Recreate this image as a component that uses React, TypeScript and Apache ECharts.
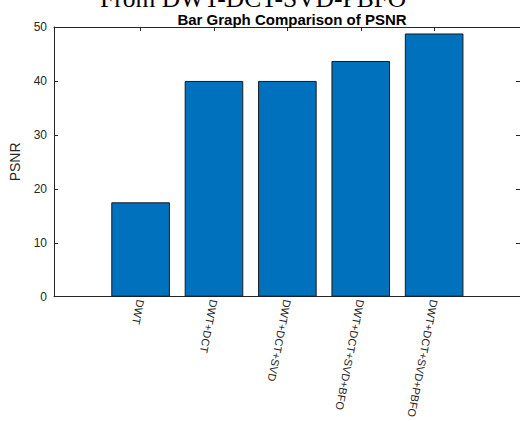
import React, { useEffect, useRef } from "react";
import * as echarts from "echarts";

const categories = ["DWT", "DWT+DCT", "DWT+DCT+SVD", "DWT+DCT+SVD+BFO", "DWT+DCT+SVD+PBFO"];
const positions = [1, 2, 3, 4, 5];
const psnrValues = [17.5, 40.0, 40.0, 43.7, 48.8];
const yTicks = [0, 10, 20, 30, 40, 50];

const AXIS = "#262626";
const SANS = "Liberation Sans, Arial, Helvetica, sans-serif";

export default function App() {
  const ref = useRef<HTMLDivElement>(null);
  useEffect(() => {
    if (!ref.current) return;
    const chart = echarts.init(ref.current, null, { renderer: "svg" });
    const xCommon = {
      type: "value",
      min: -0.18,
      max: 6.17,
      splitLine: { show: false },
      axisLine: { show: true, onZero: false, lineStyle: { color: AXIS, width: 1 } },
    };
    const yCommon = {
      type: "value",
      min: yTicks[0],
      max: yTicks[yTicks.length - 1],
      interval: 10,
      splitLine: { show: false },
      axisLine: { show: true, onZero: false, lineStyle: { color: AXIS, width: 1 } },
      axisTick: { show: true, inside: true, length: 4, lineStyle: { color: AXIS } },
    };
    chart.setOption({
      animation: false,
      title: {
        text: "Bar Graph Comparison of PSNR",
        left: 287,
        top: 7,
        textAlign: "center",
        textStyle: { fontSize: 15, fontWeight: "bold", color: "#000", fontFamily: SANS },
      },
      graphic: [
        {
          type: "text",
          left: 100,
          top: -15,
          style: {
            text: "From DWT-DCT-SVD-PBFO",
            font: "25.5px 'Liberation Serif', 'Times New Roman', serif",
            fill: "#000",
          },
        },
      ],
      grid: { left: 54, right: 0, top: 27, bottom: 116 },
      xAxis: [
        {
          ...xCommon,
          position: "bottom",
          axisTick: { show: true, inside: true, length: 4, customValues: positions, lineStyle: { color: AXIS } },
          axisLabel: {
            show: true,
            customValues: positions,
            rotate: -101,
            margin: 3,
            fontSize: 11,
            color: AXIS,
            fontFamily: SANS,
            formatter: (v: number) => categories[Math.round(v) - 1] ?? "",
          },
        },
        {
          ...xCommon,
          position: "top",
          axisTick: { show: true, inside: true, length: 4, customValues: positions, lineStyle: { color: AXIS } },
          axisLabel: { show: false },
        },
      ],
      yAxis: [
        {
          ...yCommon,
          position: "left",
          name: "PSNR",
          nameLocation: "middle",
          nameGap: 32,
          nameTextStyle: { fontSize: 14, color: AXIS, fontFamily: SANS },
          axisLabel: { show: true, margin: 7, fontSize: 12, color: AXIS, fontFamily: SANS },
        },
        {
          ...yCommon,
          position: "right",
          axisLabel: { show: false },
        },
      ],
      series: [
        {
          type: "bar",
          xAxisIndex: 0,
          yAxisIndex: 0,
          barWidth: 58.6,
          data: positions.map((p, i) => [p, psnrValues[i]]),
          itemStyle: { color: "#0072BD", borderColor: "#1a1a1a", borderWidth: 1 },
        },
      ],
    });
    return () => chart.dispose();
  }, []);
  return <div ref={ref} style={{ width: 520, height: 421, position: "absolute", left: 0, top: 0 }} />;
}
